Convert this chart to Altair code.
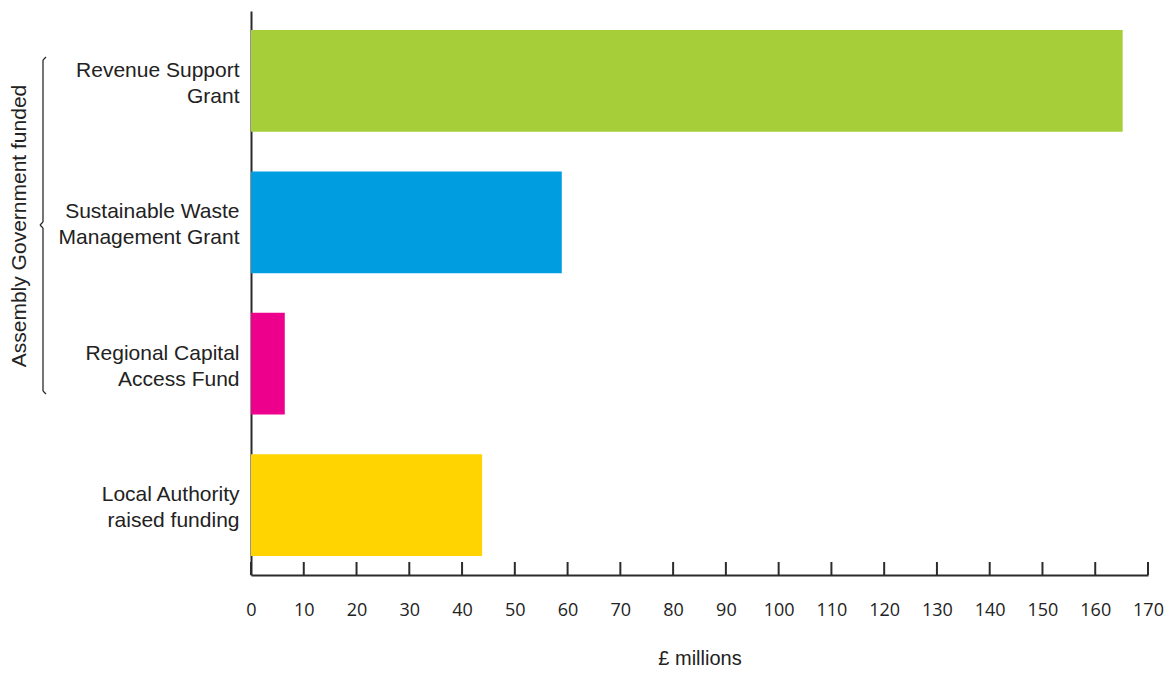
import altair as alt
import pandas as pd

categories = ["Revenue Support|Grant", "Sustainable Waste|Management Grant",
              "Regional Capital |Access Fund", "Local Authority|raised funding"]
values = [165.2, 58.9, 6.4, 43.8]
colors = ["#A6CE39", "#009EE0", "#EC008C", "#FFD400"]
tick_values = list(range(0, 171, 10))

df = pd.DataFrame({"category": categories, "value": values, "color": colors})
ticks_df = pd.DataFrame({"t": tick_values})

W, H = 897, 564
AXIS_COLOR = "#2b2b2b"

bars = alt.Chart(df).mark_bar().encode(
    x=alt.X("value:Q",
            scale=alt.Scale(domain=[0, 170], nice=False, zero=True),
            axis=alt.Axis(values=tick_values, title="£ millions", ticks=False, grid=False,
                          domainColor=AXIS_COLOR, domainWidth=2,
                          labelFont="Open Sans", labelFontSize=18, labelColor="#222",
                          labelPadding=26, labelFlush=False,
                          titleFont="Liberation Sans", titleFontSize=20, titleFontWeight="normal",
                          titleColor="#222", titlePadding=29)),
    y=alt.Y("category:N", sort=categories,
            scale=alt.Scale(paddingInner=0.28, paddingOuter=0.135),
            axis=alt.Axis(title=None, ticks=False, grid=False,
                          domainColor=AXIS_COLOR, domainWidth=2,
                          labelExpr="split(datum.label, '|')",
                          labelFont="Liberation Sans", labelFontSize=21, labelColor="#222",
                          labelLineHeight=26, labelPadding=12, labelLimit=300,
                          labelOffset=-10)),
    color=alt.Color("color:N", scale=None, legend=None),
)

tick_rules = alt.Chart(ticks_df).mark_rule(color=AXIS_COLOR, strokeWidth=2).encode(
    x="t:Q",
    y=alt.value(H - 13),
    y2=alt.value(H),
)

one = alt.Data(values=[{"a": 1}])
bx = -208
top, mid, bot = 46, 214, 383
bracket_segments = [
    (bx + 3, top, bx, top + 3),
    (bx, top + 3, bx, mid - 3),
    (bx, mid - 3, bx - 3, mid),
    (bx - 3, mid, bx, mid + 3),
    (bx, mid + 3, bx, bot - 3),
    (bx, bot - 3, bx + 3, bot),
]
bracket_layers = []
for x1, y1, x2, y2 in bracket_segments:
    bracket_layers.append(
        alt.Chart(one).mark_rule(color=AXIS_COLOR, strokeWidth=1.3).encode(
            x=alt.value(x1), y=alt.value(y1), x2=alt.value(x2), y2=alt.value(y2)
        )
    )

group_label = alt.Chart(one).mark_text(
    text="Assembly Government funded", angle=270, font="Liberation Sans",
    fontSize=21, color="#222", align="center", baseline="middle"
).encode(x=alt.value(-231), y=alt.value(215))

chart = alt.layer(bars, tick_rules, *bracket_layers, group_label).properties(
    width=W, height=H,
    autosize=alt.AutoSizeParams(type="none"),
    padding={"left": 243, "top": 3, "right": 16, "bottom": 94},
).configure_view(stroke=None)

chart.save("out.html", embed_options={"renderer": "svg", "actions": False})
